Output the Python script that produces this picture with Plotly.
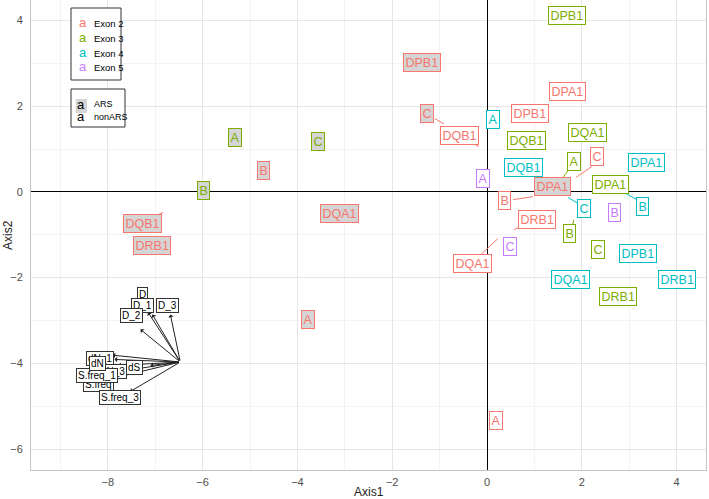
import plotly.graph_objects as go

# ---------------- data ----------------
exon_names = ["Exon 2", "Exon 3", "Exon 4", "Exon 5"]
exon_colors = ["#F8766D", "#7CAE00", "#00BFC4", "#C77CFF"]

exon2_labels = ["DPB1", "C", "DQB1", "DPA1", "DPB1", "C", "DPA1", "B", "DRB1", "DQA1",
                "B", "DQA1", "DQB1", "DRB1", "A", "A"]
exon2_ars = [1, 1, 0, 0, 0, 0, 1, 0, 0, 0, 1, 1, 1, 1, 1, 0]
exon2_x = [-1.37, -1.26, -0.57, 1.69, 0.91, 2.32, 1.39, 0.36, 1.05, -0.30,
           -4.72, -3.12, -7.27, -7.06, -3.77, 0.19]
exon2_y = [3.01, 1.82, 1.31, 2.34, 1.83, 0.82, 0.12, -0.20, -0.65, -1.67,
           0.50, -0.50, -0.74, -1.25, -2.98, -5.33]

exon3_labels = ["DPB1", "A", "C", "B", "DQB1", "DQA1", "A", "DPA1", "B", "C", "DRB1"]
exon3_ars = [0, 1, 1, 1, 0, 0, 0, 0, 0, 0, 0]
exon3_x = [1.69, -5.31, -3.56, -5.99, 0.84, 2.11, 1.83, 2.61, 1.73, 2.34, 2.76]
exon3_y = [4.11, 1.26, 1.17, 0.03, 1.19, 1.38, 0.71, 0.17, -0.97, -1.35, -2.44]

exon4_labels = ["A", "DQB1", "DPA1", "C", "B", "DPB1", "DQA1", "DRB1"]
exon4_ars = [0, 0, 0, 0, 0, 0, 0, 0]
exon4_x = [0.13, 0.78, 3.37, 2.04, 3.29, 3.18, 1.77, 4.00]
exon4_y = [1.68, 0.57, 0.68, -0.39, -0.34, -1.44, -2.05, -2.05]

exon5_labels = ["A", "B", "C"]
exon5_ars = [0, 0, 0]
exon5_x = [-0.08, 2.70, 0.48]
exon5_y = [0.31, -0.49, -1.28]

# repel segments: exon index, start (label side) and end (point)
seg_exon = [0, 0, 0, 1, 0, 2, 2, 1, 0, 0, 0]
seg_x0 = [-1.10, -0.30, 2.21, 1.71, 0.55, 1.92, 3.16, 1.81, 0.70, -0.13, -6.94]
seg_y0 = [1.71, 1.13, 0.59, 0.50, -0.18, -0.27, -0.18, -0.76, -0.81, -1.46, -0.53]
seg_x1 = [-0.91, -0.17, 1.88, 1.54, 0.97, 1.71, 2.91, 1.83, 0.57, 0.23, -6.83]
seg_y1 = [1.59, 1.06, 0.34, 0.24, -0.11, -0.13, -0.02, -0.65, -0.88, -1.09, -0.48]

# correlation circle inset (in main data coordinates)
circle_cx, circle_cy = -6.47, -3.97
circle_r = 1.44
cross_half = 2.36
var_names = ["dN_1", "S.freq", "dN_3", "S.freq_1", "dN", "dS", "S.freq_3", "D", "D_1", "D_2", "D_3"]
var_tip_x = [-7.90, -7.82, -7.78, -7.86, -7.86, -7.10, -7.53, -7.15, -7.06, -7.31, -6.68]
var_tip_y = [-3.81, -4.33, -4.05, -4.21, -3.91, -4.05, -4.66, -2.81, -2.86, -3.21, -2.86]
var_lab_x = [-8.16, -8.20, -7.88, -8.22, -8.22, -7.44, -7.74, -7.27, -7.27, -7.50, -6.75]
var_lab_y = [-3.88, -4.49, -4.19, -4.28, -4.00, -4.10, -4.79, -2.39, -2.65, -2.88, -2.65]

x_range = [-9.62, 4.62]
y_range = [-6.49, 4.48]

FONT = "Liberation Sans"
ARS_FILL = "#d5d5d5"

fig = go.Figure()

# segments
for i, col in enumerate(exon_colors):
    xs, ys = [], []
    for e, a, b, c, d in zip(seg_exon, seg_x0, seg_y0, seg_x1, seg_y1):
        if e == i:
            xs += [a, c, None]
            ys += [b, d, None]
    if xs:
        fig.add_trace(go.Scatter(x=xs, y=ys, mode="lines", line=dict(color=col, width=1),
                                 hoverinfo="skip", showlegend=False))

# inset cross and circle
fig.add_shape(type="circle", xref="x", yref="y",
              x0=circle_cx - circle_r, x1=circle_cx + circle_r,
              y0=circle_cy - circle_r, y1=circle_cy + circle_r,
              line=dict(color="black", width=1.2))
fig.add_shape(type="line", xref="x", yref="y",
              x0=circle_cx - cross_half, x1=circle_cx + cross_half, y0=circle_cy, y1=circle_cy,
              line=dict(color="black", width=1.2))
fig.add_shape(type="line", xref="x", yref="y",
              x0=circle_cx, x1=circle_cx, y0=circle_cy - cross_half, y1=circle_cy + cross_half,
              line=dict(color="black", width=1.2))

annotations = []
# arrows
for tx, ty in zip(var_tip_x, var_tip_y):
    annotations.append(dict(x=tx, y=ty, ax=circle_cx, ay=circle_cy, xref="x", yref="y",
                            axref="x", ayref="y", text="", showarrow=True, arrowhead=1,
                            arrowsize=0.9, arrowwidth=1, arrowcolor="#222222"))
# variable labels
for name, lx, ly in zip(var_names, var_lab_x, var_lab_y):
    annotations.append(dict(x=lx, y=ly, xref="x", yref="y", text=name, showarrow=False,
                            font=dict(family=FONT, size=10, color="black"),
                            bgcolor="white", bordercolor="#333333", borderwidth=1, borderpad=1))

# main labels
groups = [(exon2_labels, exon2_ars, exon2_x, exon2_y),
          (exon3_labels, exon3_ars, exon3_x, exon3_y),
          (exon4_labels, exon4_ars, exon4_x, exon4_y),
          (exon5_labels, exon5_ars, exon5_x, exon5_y)]
for (labs, ars, xs, ys), col in zip(groups, exon_colors):
    for t, a, x, y in zip(labs, ars, xs, ys):
        annotations.append(dict(x=x, y=y, xref="x", yref="y", text=t, showarrow=False,
                                font=dict(family=FONT, size=12.5, color=col),
                                bgcolor=ARS_FILL if a else "white",
                                bordercolor=col, borderwidth=1, borderpad=1.5))

# legends (paper coords)
def px2paper(px, py):
    return (px - 31) / 675.0, (470 - py) / 470.0

shapes = []
bx0, by0 = px2paper(71, 8)
bx1, by1 = px2paper(121, 80)
shapes.append(dict(type="rect", xref="paper", yref="paper", x0=bx0, x1=bx1, y0=by1, y1=by0,
                   line=dict(color="#333333", width=1), fillcolor="white"))
for i, (nm, col) in enumerate(zip(exon_names, exon_colors)):
    ay = 24.3 + i * 14.6
    ax_, ay_ = px2paper(82.7, ay - 1.5)
    annotations.append(dict(x=ax_, y=ay_, xref="paper", yref="paper", text="a", showarrow=False,
                            xanchor="center", yanchor="middle",
                            font=dict(family=FONT, size=13, color=col)))
    tx_, ty_ = px2paper(92, ay - 0.5)
    annotations.append(dict(x=tx_, y=ty_, xref="paper", yref="paper", text=nm, showarrow=False,
                            xanchor="left", yanchor="middle",
                            font=dict(family=FONT, size=9.5, color="black")))

bx0, by0 = px2paper(71, 89)
bx1, by1 = px2paper(125, 127)
shapes.append(dict(type="rect", xref="paper", yref="paper", x0=bx0, x1=bx1, y0=by1, y1=by0,
                   line=dict(color="#333333", width=1), fillcolor="white"))
gx0, gy0 = px2paper(75.7, 99)
gx1, gy1 = px2paper(87, 113)
shapes.append(dict(type="rect", xref="paper", yref="paper", x0=gx0, x1=gx1, y0=gy1, y1=gy0,
                   line=dict(width=0), fillcolor=ARS_FILL))
for lab, yy in [("ARS", 105.5), ("nonARS", 118.5)]:
    ax_, ay_ = px2paper(81.3, yy - 1.5)
    annotations.append(dict(x=ax_, y=ay_, xref="paper", yref="paper", text="a", showarrow=False,
                            xanchor="center", yanchor="middle",
                            font=dict(family=FONT, size=13, color="black")))
    tx_, ty_ = px2paper(92, yy - 1.5)
    annotations.append(dict(x=tx_, y=ty_, xref="paper", yref="paper", text=lab, showarrow=False,
                            xanchor="left", yanchor="middle",
                            font=dict(family=FONT, size=9, color="black")))

# axis titles
annotations.append(dict(x=0.5, y=0, xref="paper", yref="paper", text="Axis1", showarrow=False,
                        xanchor="center", yanchor="middle", yshift=-22,
                        font=dict(family=FONT, size=12, color="#222222")))
annotations.append(dict(x=0, y=0.5, xref="paper", yref="paper", text="Axis2", showarrow=False,
                        xanchor="center", yanchor="middle", xshift=-23, textangle=-90,
                        font=dict(family=FONT, size=12, color="#222222")))

axis_common = dict(
    showgrid=True, gridcolor="#e6e6e6", gridwidth=1,
    zeroline=True, zerolinecolor="black", zerolinewidth=1.2,
    showline=True, mirror=True, linecolor="#c4c4c4", linewidth=1,
    ticks="", tick0=0, dtick=2, automargin=False,
    minor=dict(dtick=1, showgrid=True, gridcolor="#f3f3f3", gridwidth=0.6),
    tickfont=dict(family=FONT, size=11, color="#4d4d4d"),
)

fig.update_layout(
    width=709, height=499,
    margin=dict(l=31, r=3, t=0, b=29),
    paper_bgcolor="white", plot_bgcolor="white",
    showlegend=False,
    xaxis=dict(range=x_range, ticklabelstandoff=2, **axis_common),
    yaxis=dict(range=y_range, ticklabelstandoff=5, **axis_common),
    annotations=annotations,
    shapes=shapes,
)

fig.write_html("out.html", config={"displayModeBar": False},
               post_script="document.body.style.margin='0';document.body.style.padding='0';")
